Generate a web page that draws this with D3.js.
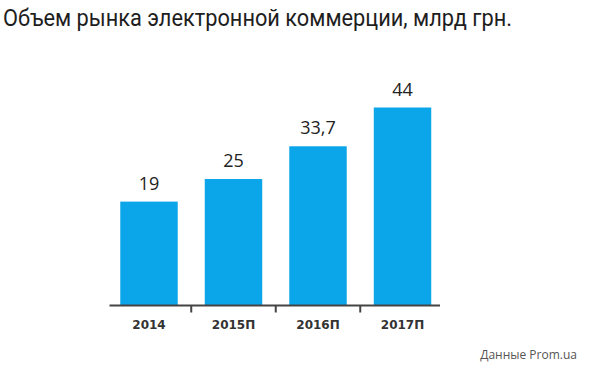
<!DOCTYPE html>
<html>
<head>
<meta charset="utf-8">
<script src="https://cdn.jsdelivr.net/npm/d3@7"></script>
<style>
  body { margin: 0; background: #fff; }
  svg { display: block; }
</style>
</head>
<body>
<div class="chart"></div>
<script>
// Data
const years = ['2014', '2015П', '2016П', '2017П'];
const values = [19, 25, 33.7, 44];
const valueLabels = ['19', '25', '33,7', '44'];

const titleText = 'Объем рынка электронной коммерции, млрд грн.';
const sourceText = 'Данные Prom.ua';

const width = 600;
const height = 372;
const baseline = 305.5;

const svg = d3.select('.chart').append('svg')
    .attr('width', width)
    .attr('height', height);

// X: band scale, ticks sit between bars
const x = d3.scaleBand()
    .domain(years)
    .range([106.75, 444.75])
    .paddingInner(0.32)
    .paddingOuter(0.16);

// Y: the original graphic is not drawn from zero
const y = d3.scaleLinear()
    .domain([-8.6, 44])
    .range([baseline, 107.5]);

// Title
svg.append('text')
    .attr('x', 3)
    .attr('y', 26)
    .attr('textLength', 509)
    .attr('lengthAdjust', 'spacingAndGlyphs')
    .style('font-family', 'Roboto, "Noto Sans", sans-serif')
    .style('font-size', '24px')
    .style('fill', '#1e1e1e')
    .text(titleText);

// Bars
svg.selectAll('rect.bar')
    .data(values)
    .enter()
    .append('rect')
    .attr('class', 'bar')
    .attr('x', (d, i) => x(years[i]))
    .attr('y', d => y(d))
    .attr('width', x.bandwidth())
    .attr('height', d => baseline - y(d))
    .attr('fill', '#0ba5e9');

// Value labels
svg.selectAll('text.value')
    .data(values)
    .enter()
    .append('text')
    .attr('class', 'value')
    .attr('x', (d, i) => x(years[i]) + x.bandwidth() / 2)
    .attr('y', d => y(d) - 12)
    .attr('text-anchor', 'middle')
    .style('font-family', '"Open Sans", "Noto Sans", sans-serif')
    .style('font-size', '18px')
    .style('fill', '#222')
    .text((d, i) => valueLabels[i]);

// X axis
const axis = svg.append('g')
    .attr('class', 'x-axis')
    .attr('transform', `translate(0,${baseline})`)
    .call(d3.axisBottom(x).tickSize(0).tickPadding(15));

axis.select('.domain')
    .attr('d', `M109.5,0H440`)
    .attr('stroke', '#444')
    .attr('stroke-width', 2);

axis.selectAll('text')
    .style('font-family', '"DejaVu Sans", sans-serif')
    .style('font-weight', 'bold')
    .style('font-size', '12px')
    .style('fill', '#333');

// separator ticks between bars
const step = x.step();
axis.selectAll('line.sep')
    .data(years.slice(1))
    .enter()
    .append('line')
    .attr('class', 'sep')
    .attr('x1', d => x(d) - (step - x.bandwidth()) / 2)
    .attr('x2', d => x(d) - (step - x.bandwidth()) / 2)
    .attr('y1', 0)
    .attr('y2', 7)
    .attr('stroke', '#444')
    .attr('stroke-width', 2);

// Source
svg.append('text')
    .attr('x', 577)
    .attr('y', 359)
    .attr('text-anchor', 'end')
    .style('font-family', '"Open Sans", sans-serif')
    .style('font-size', '12px')
    .style('fill', '#555')
    .text(sourceText);
</script>
</body>
</html>
